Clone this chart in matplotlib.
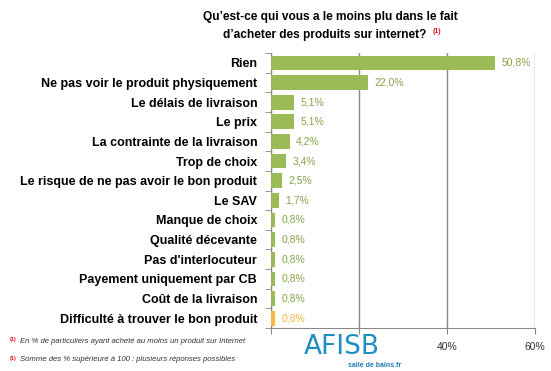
import matplotlib.pyplot as plt
import numpy as np

cats = ["Rien", "Ne pas voir le produit physiquement", "Le délais de livraison",
        "Le prix", "La contrainte de la livraison", "Trop de choix",
        "Le risque de ne pas avoir le bon produit", "Le SAV", "Manque de choix",
        "Qualité décevante", "Pas d'interlocuteur", "Payement uniquement par CB",
        "Coût de la livraison", "Difficulté à trouver le bon produit"]
vals = [50.8, 22.0, 5.1, 5.1, 4.2, 3.4, 2.5, 1.7, 0.8, 0.8, 0.8, 0.8, 0.8, 0.8]
val_labels = ["50,8%", "22,0%", "5,1%", "5,1%", "4,2%", "3,4%", "2,5%", "1,7%",
              "0,8%", "0,8%", "0,8%", "0,8%", "0,8%", "0,8%"]
xticks = [0, 20, 40, 60]

green = "#9BBB59"
orange = "#F7B844"
colors = [green] * (len(vals) - 1) + [orange]
txtcol = ["#86A34A"] * (len(vals) - 1) + [orange]

plt.rcParams['font.family'] = ['Liberation Sans', 'DejaVu Sans']

fig = plt.figure(figsize=(5.51, 3.71), dpi=100)
ax = fig.add_axes([0.492, 0.116, 0.479, 0.741])

y = np.arange(len(vals))
ax.barh(y, vals, height=0.75, color=colors, zorder=3)
for yi, v, lab, c in zip(y, vals, val_labels, txtcol):
    ax.text(v + 1.5, yi, lab, va='center', ha='left', fontsize=7.5, color=c)

ax.set_xlim(0, 60)
ax.set_ylim(len(vals) - 0.5, -0.5)
ax.set_xticks(xticks)
ax.set_xticklabels(["", "", "40%", "60%"], fontsize=7.5, color="#333333")
ax.set_yticks(y)
ax.set_yticklabels(cats, fontsize=9.0, fontweight='bold')
ax.set_yticks(np.arange(len(vals) + 1) - 0.5, minor=True)
ax.tick_params(axis='y', which='major', length=0, pad=10)
ax.tick_params(axis='y', which='minor', length=4, color="#888888")
ax.tick_params(axis='x', length=4, color="#888888", pad=6)
ax.grid(axis='x', color="#888888", linewidth=1, zorder=0)
for s in ['top', 'right']:
    ax.spines[s].set_visible(False)
for s in ['left', 'bottom']:
    ax.spines[s].set_color("#888888")

fig.text(0.60, 0.955, "Qu\u2019est-ce qui vous a le moins plu dans le fait", ha='center',
         va='center', fontsize=8.6, fontweight='bold')
fig.text(0.59, 0.905, "d\u2019acheter des produits sur internet?", ha='center',
         va='center', fontsize=8.6, fontweight='bold')
fig.text(0.785, 0.915, "(1)", ha='left', va='center', fontsize=5, color="#E8112D",
         fontweight='bold')

fig.text(0.018, 0.085, "(1)", fontsize=4, color="#E8112D", fontweight='bold', va='center')
fig.text(0.036, 0.080, "En % de particuliers ayant acheté au moins un produit sur Internet",
         fontsize=5.6, style='italic', color="#333333", va='center')
fig.text(0.018, 0.035, "(1)", fontsize=4, color="#E8112D", fontweight='bold', va='center')
fig.text(0.036, 0.030, "Somme des % supérieure à 100 : plusieurs réponses possibles",
         fontsize=5.6, style='italic', color="#333333", va='center')

fig.text(0.62, 0.065, "AFISB", fontsize=19, color="#1E8FC0", ha='center',
         va='center', family='DejaVu Sans')
fig.text(0.68, 0.014, "salle de bains.fr", fontsize=5, color="#1E7FB0",
         ha='center', va='center', fontweight='bold')

fig.savefig("out.png", dpi=100)
